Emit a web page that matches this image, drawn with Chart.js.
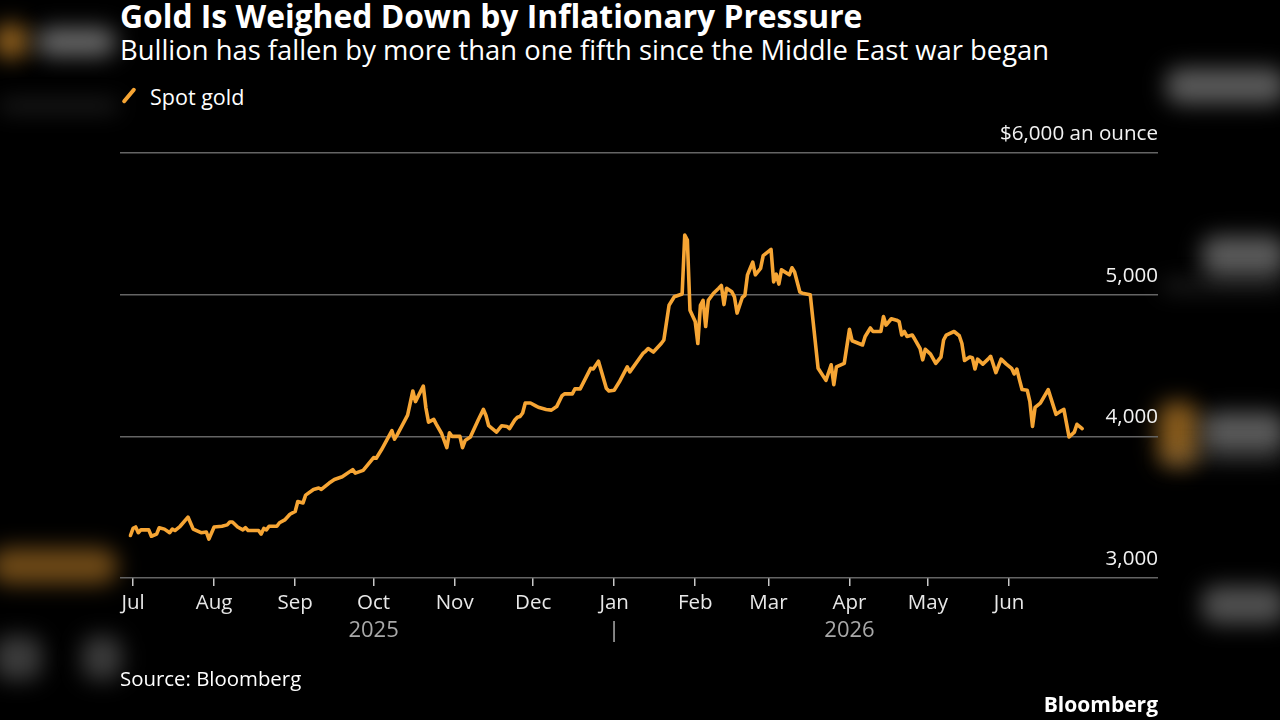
<!DOCTYPE html>
<html>
<head>
<meta charset="utf-8">
<script src="https://cdn.jsdelivr.net/npm/chart.js@4.4.1/dist/chart.umd.min.js"></script>
<style>
  html, body { margin: 0; padding: 0; width: 1280px; height: 720px; background: #000; overflow: hidden; }
  body { position: relative; font-family: "Open Sans", sans-serif; color: #fff; }
  .txt { position: absolute; white-space: nowrap; line-height: 1; }
  #title { left: 120px; top: 0px; font-weight: 700; font-size: 31.8px; }
  #subtitle { left: 120px; top: 36px; font-size: 27.4px; }
  #legend { left: 120px; top: 86px; font-size: 21.5px; }
  #legend i { position: absolute; left: 7px; top: 0px; width: 4px; height: 19px; background: #f6a534; border-radius: 2px; transform: rotate(40deg); }
  #legend span { position: absolute; left: 30px; top: 0; }
  #source { left: 120px; top: 668px; font-size: 20.4px; }
  #brand { right: 122px; top: 694px; font-size: 21px; font-weight: 700; }
  #chart { position: absolute; left: 0; top: 0; }
  .blur { position: absolute; filter: blur(11px); border-radius: 14px; }
</style>
</head>
<body>
<!-- blurred backdrop on both sides -->
<div class="blur" style="left:-6px;top:24px;width:34px;height:34px;background:rgba(246,165,52,.6)"></div>
<div class="blur" style="left:36px;top:28px;width:80px;height:28px;background:rgba(210,210,210,.5)"></div>
<div class="blur" style="left:0;top:102px;width:118px;height:8px;background:rgba(140,140,140,.35)"></div>
<div class="blur" style="left:-10px;top:548px;width:128px;height:36px;background:rgba(246,165,52,.45);border-radius:18px"></div>
<div class="blur" style="left:-6px;top:636px;width:48px;height:44px;background:rgba(170,170,170,.35)"></div>
<div class="blur" style="left:82px;top:636px;width:40px;height:44px;background:rgba(170,170,170,.35)"></div>
<div class="blur" style="left:1166px;top:68px;width:120px;height:36px;background:rgba(200,200,200,.45)"></div>
<div class="blur" style="left:1202px;top:236px;width:84px;height:40px;background:rgba(200,200,200,.45)"></div>
<div class="blur" style="left:1162px;top:282px;width:124px;height:8px;background:rgba(140,140,140,.35)"></div>
<div class="blur" style="left:1158px;top:402px;width:40px;height:64px;background:rgba(246,165,52,.55)"></div>
<div class="blur" style="left:1202px;top:412px;width:84px;height:40px;background:rgba(200,200,200,.45)"></div>
<div class="blur" style="left:1162px;top:454px;width:124px;height:8px;background:rgba(140,140,140,.35)"></div>
<div class="blur" style="left:1202px;top:586px;width:84px;height:38px;background:rgba(200,200,200,.4)"></div>

<div class="txt" id="title">Gold Is Weighed Down by Inflationary Pressure</div>
<div class="txt" id="subtitle">Bullion has fallen by more than one fifth since the Middle East war began</div>
<div class="txt" id="legend"><i></i><span>Spot gold</span></div>
<canvas id="chart" width="1280" height="720"></canvas>
<div class="txt" id="source">Source: Bloomberg</div>
<div class="txt" id="brand">Bloomberg</div>
<script>
// spot gold, $ an ounce
const dates = [
  "2025-06-30","2025-07-01","2025-07-02","2025-07-03","2025-07-04","2025-07-07","2025-07-08","2025-07-10","2025-07-11","2025-07-13",
  "2025-07-15","2025-07-16","2025-07-17","2025-07-19","2025-07-22","2025-07-24","2025-07-27","2025-07-29","2025-07-30",
  "2025-08-01","2025-08-04","2025-08-06","2025-08-07","2025-08-08","2025-08-10","2025-08-12","2025-08-13","2025-08-14",
  "2025-08-18","2025-08-19","2025-08-20","2025-08-21","2025-08-22","2025-08-25","2025-08-26","2025-08-28","2025-08-30",
  "2025-09-01","2025-09-02","2025-09-04","2025-09-05","2025-09-08","2025-09-10","2025-09-11","2025-09-14","2025-09-16",
  "2025-09-19","2025-09-23","2025-09-24","2025-09-27",
  "2025-10-01","2025-10-02","2025-10-04","2025-10-08","2025-10-09","2025-10-10","2025-10-13","2025-10-14","2025-10-16",
  "2025-10-17","2025-10-20","2025-10-21","2025-10-22","2025-10-24","2025-10-25","2025-10-27","2025-10-29","2025-10-30","2025-10-31",
  "2025-11-03","2025-11-04","2025-11-05","2025-11-07","2025-11-10","2025-11-12","2025-11-13","2025-11-14","2025-11-17",
  "2025-11-19","2025-11-21","2025-11-22","2025-11-24","2025-11-25","2025-11-26","2025-11-27","2025-11-28","2025-11-30",
  "2025-12-02","2025-12-03","2025-12-06","2025-12-08","2025-12-10","2025-12-12","2025-12-13","2025-12-16","2025-12-17",
  "2025-12-19","2025-12-23","2025-12-24","2025-12-26","2025-12-29","2025-12-30",
  "2026-01-01","2026-01-03","2026-01-06","2026-01-07","2026-01-12","2026-01-13","2026-01-14","2026-01-16","2026-01-19",
  "2026-01-20","2026-01-22","2026-01-24","2026-01-27","2026-01-28","2026-01-29","2026-01-30",
  "2026-02-01","2026-02-02","2026-02-03","2026-02-04","2026-02-05","2026-02-06","2026-02-08","2026-02-10","2026-02-11",
  "2026-02-12","2026-02-13","2026-02-15","2026-02-16","2026-02-17","2026-02-19","2026-02-20","2026-02-21","2026-02-22",
  "2026-02-23","2026-02-24","2026-02-26","2026-02-27",
  "2026-03-02","2026-03-03","2026-03-04","2026-03-05","2026-03-06","2026-03-09","2026-03-10","2026-03-11","2026-03-13",
  "2026-03-14","2026-03-17","2026-03-20","2026-03-23","2026-03-25","2026-03-26","2026-03-27","2026-03-30",
  "2026-04-01","2026-04-02","2026-04-06","2026-04-07","2026-04-09","2026-04-10","2026-04-13","2026-04-14","2026-04-15",
  "2026-04-17","2026-04-19","2026-04-20","2026-04-21","2026-04-22","2026-04-23","2026-04-25","2026-04-26","2026-04-28",
  "2026-04-29","2026-04-30",
  "2026-05-02","2026-05-04","2026-05-06","2026-05-07","2026-05-08","2026-05-11","2026-05-13","2026-05-14","2026-05-15",
  "2026-05-17","2026-05-18","2026-05-19","2026-05-20","2026-05-22","2026-05-24","2026-05-25","2026-05-27","2026-05-29","2026-05-31",
  "2026-06-02","2026-06-03","2026-06-04","2026-06-05","2026-06-06","2026-06-08","2026-06-09","2026-06-10","2026-06-11",
  "2026-06-13","2026-06-16","2026-06-19","2026-06-21","2026-06-22","2026-06-24","2026-06-26","2026-06-27","2026-06-29"
];
const spotGold = [
  3300,3350,3360,3320,3340,3340,3295,3310,3355,3345,
  3320,3345,3335,3365,3430,3345,3320,3325,3275,
  3360,3365,3375,3395,3395,3360,3340,3355,3335,
  3335,3310,3350,3340,3365,3365,3390,3410,3450,
  3470,3540,3530,3585,3625,3635,3625,3670,3695,
  3715,3765,3740,3760,
  3850,3845,3905,4040,3980,4010,4115,4150,4320,
  4245,4355,4200,4100,4120,4085,4020,3920,4025,4000,
  4000,3920,3970,3995,4115,4190,4145,4075,4030,
  4075,4070,4055,4115,4135,4140,4165,4235,4235,
  4215,4205,4190,4185,4210,4285,4300,4300,4335,
  4335,4480,4475,4530,4340,4320,
  4325,4385,4490,4455,4585,4600,4620,4595,4655,
  4680,4925,4985,5005,5420,5385,4890,
  4810,4655,4925,4960,4775,4960,5010,5045,5065,
  4930,5045,5020,4985,4870,4980,4995,5140,5185,
  5230,5140,5185,5275,
  5320,5090,5145,5075,5175,5140,5190,5160,5020,
  5010,5000,4480,4395,4505,4365,4490,4515,
  4755,4675,4645,4705,4765,4740,4740,4845,4785,
  4830,4820,4810,4715,4740,4705,4715,4685,4620,
  4540,4615,
  4580,4515,4560,4680,4715,4740,4710,4655,4535,
  4560,4555,4475,4545,4510,4545,4565,4450,4545,4510,
  4480,4440,4475,4400,4330,4325,4245,4070,4205,
  4235,4330,4155,4180,4190,3995,4030,4085,4055
];
const monthTicks = ["2025-07-01","2025-08-01","2025-09-01","2025-10-01","2025-11-01","2025-12-01",
                    "2026-01-01","2026-02-01","2026-03-01","2026-04-01","2026-05-01","2026-06-01"];
const monthLabels = ["Jul","Aug","Sep","Oct","Nov","Dec","Jan","Feb","Mar","Apr","May","Jun"];
const yearTicks = ["2025-10-01","2026-01-01","2026-04-01"];
const yearLabels = ["2025","|","2026"];
const priceTicks = [3000, 4000, 5000, 6000];
const xRange = ["2025-06-26","2026-07-28"];

const start = Date.UTC(2025, 6, 1);
function dayOf(s) {
  const p = s.split("-").map(Number);
  return (Date.UTC(p[0], p[1] - 1, p[2]) - start) / 864e5;
}

const points = dates.map((d, i) => ({ x: dayOf(d), y: spotGold[i] }));
const gold = "#f6a534";

new Chart(document.getElementById("chart"), {
  type: "line",
  data: {
    datasets: [{
      label: "Spot gold",
      data: points,
      borderColor: gold,
      borderWidth: 3.6,
      borderJoinStyle: "round",
      borderCapStyle: "round",
      pointRadius: 0,
      tension: 0,
      xAxisID: "x",
      yAxisID: "y"
    }]
  },
  options: {
    responsive: false,
    animation: false,
    devicePixelRatio: 1,
    layout: { padding: { left: 120, right: 122, top: 153, bottom: 75 } },
    plugins: { legend: { display: false }, tooltip: { enabled: false } },
    scales: {
      x: {
        type: "linear",
        position: "bottom",
        min: dayOf(xRange[0]),
        max: dayOf(xRange[1]),
        afterBuildTicks: s => { s.ticks = monthTicks.map(d => ({ value: dayOf(d) })); },
        afterFit: s => { s.height = 37; },
        grid: { drawOnChartArea: false, drawTicks: true, tickLength: 8, color: "#c8c8c8", lineWidth: 1.5 },
        border: { display: false },
        ticks: {
          autoSkip: false, maxRotation: 0, padding: 5, color: "#e8e8e8",
          font: { family: "Open Sans", size: 20.5 },
          callback: (v, i) => monthLabels[i]
        }
      },
      x2: {
        // year row: mirrored so it is not clipped to its own box and can sit close under the months
        type: "linear",
        axis: "x",
        position: "bottom",
        weight: 1,
        min: dayOf(xRange[0]),
        max: dayOf(xRange[1]),
        afterBuildTicks: s => { s.ticks = yearTicks.map(d => ({ value: dayOf(d) })); },
        afterFit: s => { s.height = 30; },
        grid: { display: false },
        border: { display: false },
        ticks: {
          autoSkip: false, maxRotation: 0, mirror: true, padding: -29, color: "#a8a8a8",
          font: { family: "Open Sans", size: 22 },
          callback: (v, i) => yearLabels[i]
        }
      },
      y: {
        position: "right",
        min: 3000,
        max: 6000,
        afterBuildTicks: s => { s.ticks = priceTicks.map(v => ({ value: v })); },
        afterFit: s => { s.width = 0; },
        grid: { color: "#646464", lineWidth: 1.5, drawTicks: false },
        border: { display: false },
        ticks: {
          mirror: true, padding: 0, labelOffset: -19, color: "#f2f2f2",
          font: { family: "Open Sans", size: 20.6 },
          callback: v => v === 6000 ? "$6,000 an ounce" : v.toLocaleString("en-US")
        }
      }
    }
  }
});
</script>
</body>
</html>
